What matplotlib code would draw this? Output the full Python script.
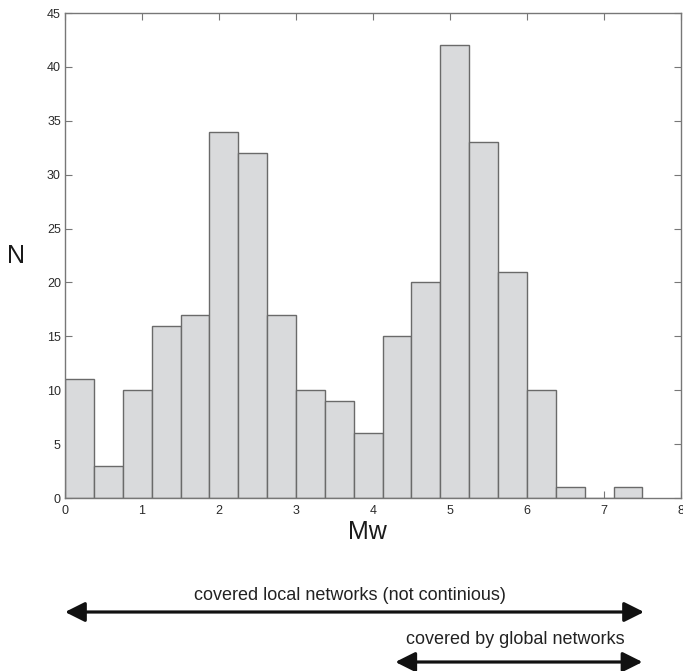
import matplotlib
matplotlib.use("Agg")
import matplotlib.pyplot as plt
import matplotlib.transforms as mtransforms
import numpy as np

plt.rcParams['font.family'] = ['Liberation Sans', 'DejaVu Sans']

# Histogram of moment magnitudes
bin_edges = [0.0, 0.375, 0.75, 1.125, 1.5, 1.875, 2.25, 2.625, 3.0, 3.375, 3.75,
             4.125, 4.5, 4.875, 5.25, 5.625, 6.0, 6.375, 6.75, 7.125, 7.5]
counts = [11, 3, 10, 16, 17, 34, 32, 17, 10, 9, 6, 15, 20, 42, 33, 21, 10, 1, 0, 1]

x_ticks = [0, 1, 2, 3, 4, 5, 6, 7, 8]
y_ticks = [0, 5, 10, 15, 20, 25, 30, 35, 40, 45]

# Magnitude ranges covered by the networks
local_range = (0.0, 7.52)
global_range = (4.29, 7.5)
local_label = "covered local networks (not continious)"
global_label = "covered by global networks"

fig = plt.figure(figsize=(6.83, 6.71), dpi=100)
ax = fig.add_axes([0.0952, 0.2578, 0.9018, 0.7228])

lefts = np.array(bin_edges[:-1])
widths = np.diff(bin_edges)
ax.bar(lefts, counts, width=widths, align='edge', color='#d9dadc',
       edgecolor='#6a6a6a', linewidth=1.0, zorder=2)

ax.set_xlim(0, 8)
ax.set_ylim(0, 45)
ax.set_xticks(x_ticks)
ax.set_yticks(y_ticks)
ax.set_axisbelow(True)
ax.tick_params(direction='in', length=5, width=0.8, color='#777777',
               labelsize=9, labelcolor='#2a2a2a', top=True, right=True,
               labeltop=False, labelright=False)
ax.tick_params(axis='x', pad=5)
ax.tick_params(axis='y', pad=3)
for sp in ax.spines.values():
    sp.set_color('#777777')
    sp.set_linewidth(1.0)

ax.set_xlabel('Mw', fontsize=18, color='#1a1a1a', labelpad=4)
ax.xaxis.set_label_coords(0.491, -0.045)
ax.set_ylabel('N', fontsize=18, color='#1a1a1a', rotation=0, labelpad=22,
              va='center')

# Coverage arrows below the axis, positioned along the data x-scale
trans = mtransforms.blended_transform_factory(ax.transData, fig.transFigure)
arrow_kw = dict(arrowstyle='<|-|>', color='#111111', lw=2.3,
                mutation_scale=30, shrinkA=0, shrinkB=0)

y_local = 1 - 612 / 671
y_global = 1 - 662 / 671
ax.annotate('', xy=(local_range[1], y_local), xytext=(local_range[0], y_local),
            xycoords=trans, textcoords=trans, arrowprops=arrow_kw,
            annotation_clip=False)
ax.text((350 - 65) / 77, 1 - 595 / 671, local_label, transform=trans,
        ha='center', va='center', fontsize=13, color='#222222')

ax.annotate('', xy=(global_range[1], y_global), xytext=(global_range[0], y_global),
            xycoords=trans, textcoords=trans, arrowprops=arrow_kw,
            annotation_clip=False)
ax.text((515 - 65) / 77, 1 - 640 / 671, global_label, transform=trans,
        ha='center', va='center', fontsize=13, color='#222222')

fig.savefig('out.png', dpi=100)
